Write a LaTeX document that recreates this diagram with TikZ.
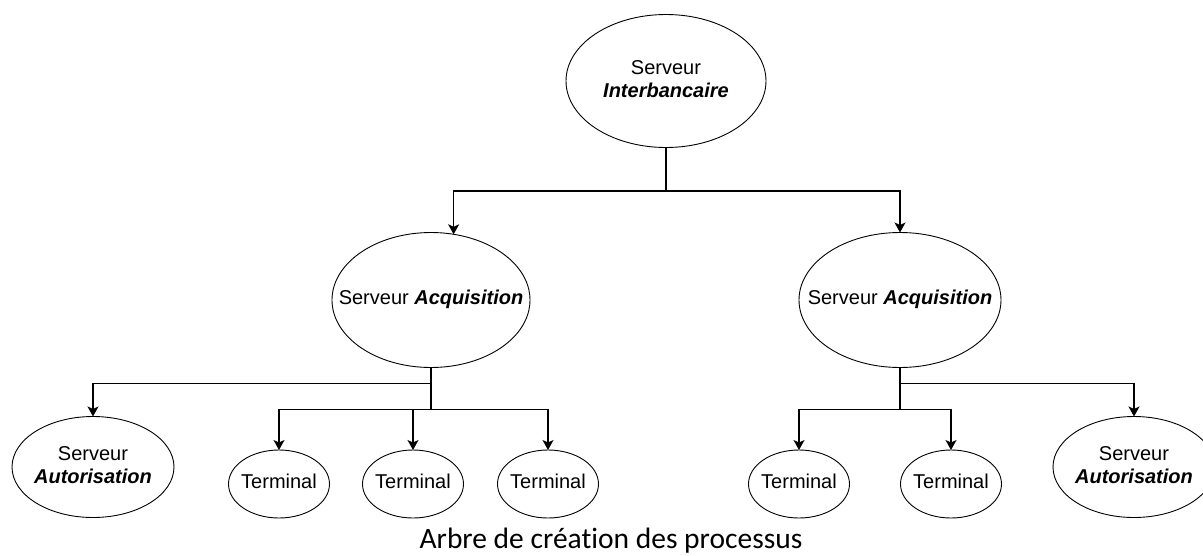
\documentclass[tikz,border=0pt]{standalone}
\usepackage{fontspec}
\setmainfont{Liberation Sans}
\newfontfamily\capfont[Ligatures={NoCommon}]{Carlito}
\usetikzlibrary{shapes.geometric,arrows.meta,positioning,calc}
\newcommand{\lbl}[1]{\makebox[0pt]{\raisebox{-3.5pt}{\begin{tabular}{@{}c@{}}#1\end{tabular}}}}
\newcommand{\bi}[1]{{\bfseries\itshape #1}}

\tikzset{
    proc/.style={ellipse, draw, line width=0.9pt, inner sep=0pt, outer sep=0pt,
        font=\fontsize{20}{23}\selectfont},
    term/.style={proc, minimum width=101pt, minimum height=68pt},
    arr/.style={-{Stealth[length=10pt,width=11pt,inset=2.5pt]}, line width=1.3pt},
    link/.style={line width=1.3pt},
}

\begin{document}
\begin{tikzpicture}[x=1pt,y=-1pt]
\useasboundingbox (0,0) rectangle (1203,555);

\node[proc, minimum width=200pt, minimum height=133pt] (inter) at (666,81)
    {\lbl{Serveur\\\bi{Interbancaire}}};

\node[proc, minimum width=198pt, minimum height=135pt] (acqL) at (431,300)
    {\lbl{Serveur \bi{Acquisition}}};
\node[proc, minimum width=202pt, minimum height=135pt] (acqR) at (900,300)
    {\lbl{Serveur \bi{Acquisition}}};

\node[proc, minimum width=162pt, minimum height=101pt] (autL) at (93,467)
    {\lbl{Serveur\\\bi{Autorisation}}};
\node[proc, minimum width=162pt, minimum height=101pt] (autR) at (1134,467)
    {\lbl{Serveur\\\bi{Autorisation}}};

\node[term] (termA) at (279,484) {\lbl{Terminal}};
\node[term] (termB) at (413,484) {\lbl{Terminal}};
\node[term] (termC) at (548,484) {\lbl{Terminal}};
\node[term] (termD) at (799,484) {\lbl{Terminal}};
\node[term] (termE) at (951,484) {\lbl{Terminal}};

\node[font=\capfont\fontsize{29.5}{34}\selectfont, anchor=base, inner sep=0pt] (caption) at (611,548)
    {Arbre de création des processus};

% root
\coordinate (busTop) at (666,191);
\draw[link] (inter.south) -- (busTop);
\draw[arr] (busTop) -| (acqL.71);
\draw[arr] (busTop) -| (acqR.north);

% left acquisition
\coordinate (busL1) at ($(acqL.south)+(0,16)$);
\coordinate (busL2) at ($(acqL.south)+(0,42)$);
\draw[link] (acqL.south) -- (busL2);
\draw[arr] (busL1) -| (autL.north);
\foreach \t in {termA,termB,termC}
    \draw[arr] (busL2) -| (\t.north);

% right acquisition
\coordinate (busR1) at ($(acqR.south)+(0,16)$);
\coordinate (busR2) at ($(acqR.south)+(0,42)$);
\draw[link] (acqR.south) -- (busR2);
\draw[arr] (busR1) -| (autR.north);
\foreach \t in {termD,termE}
    \draw[arr] (busR2) -| (\t.north);

\end{tikzpicture}
\end{document}
